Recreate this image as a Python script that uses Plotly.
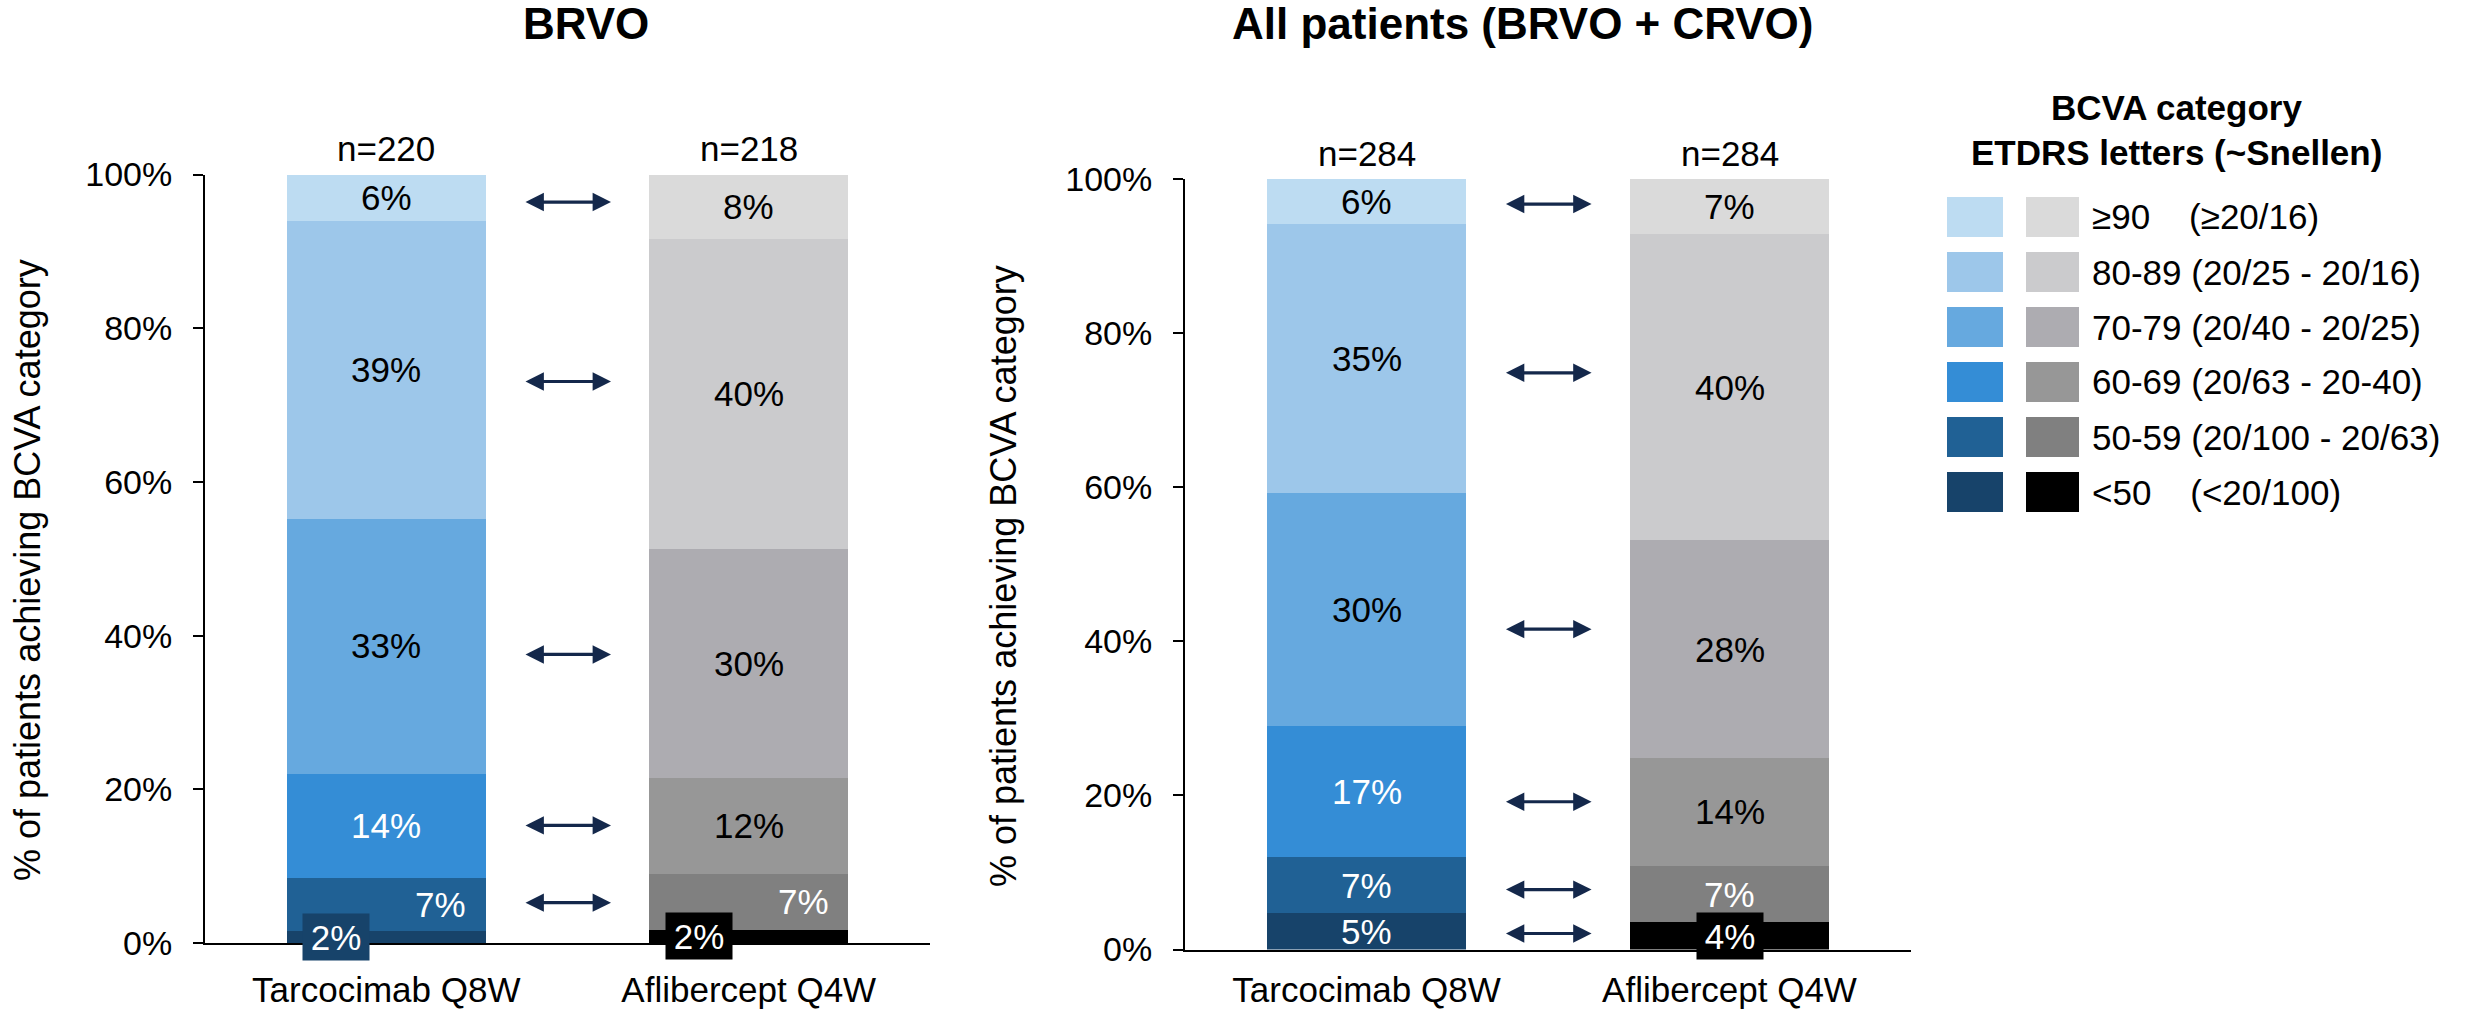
import plotly.graph_objects as go

# ---- data -------------------------------------------------------------
arms = ["Tarcocimab Q8W", "Aflibercept Q4W"]
# BCVA categories, stacked bottom -> top
bcva_levels = ["<50", "50-59", "60-69", "70-79", "80-89", "≥90"]
snellen = ["(<20/100)", "(20/100 - 20/63)", "(20/63 - 20-40)",
           "(20/40 - 20/25)", "(20/25 - 20/16)", "(≥20/16)"]

# % of patients per category (bottom -> top)
brvo_tarcocimab = [1.6, 6.9, 13.6, 33.2, 38.65, 6.05]
brvo_aflibercept = [1.8, 7.3, 12.4, 29.8, 40.4, 8.3]
all_tarcocimab = [4.7, 7.3, 17.0, 30.3, 34.9, 5.8]
all_aflibercept = [3.6, 7.2, 14.1, 28.2, 39.7, 7.2]

brvo_n = [220, 218]
all_n = [284, 284]

panel_titles = ["BRVO", "All patients (BRVO + CRVO)"]
y_title = "% of patients achieving BCVA category"
legend_title = ["BCVA category", "ETDRS letters (~Snellen)"]
y_ticks = [0, 20, 40, 60, 80, 100]
y_ticktext = [f"{v}%" for v in y_ticks]

# ---- style ------------------------------------------------------------
blues = ["#17436A", "#206195", "#348DD6", "#66A9DF", "#9DC7EA", "#BDDCF2"]
greys = ["#000000", "#808080", "#979797", "#ADACB1", "#CBCBCD", "#DADADA"]
# label colour per segment (bottom -> top)
tarco_txt = ["white", "white", "white", "black", "black", "black"]
afli_txt = ["white", "white", "black", "black", "black", "black"]
arrow_col = "#14284B"
FONT = "Liberation Sans, Arial, Helvetica, sans-serif"
W, H = 2465, 1014


def px(x):
    return x / W


def py(y):
    return 1 - y / H


fig = go.Figure()

panels = [
    dict(t=brvo_tarcocimab, a=brvo_aflibercept, n=brvo_n, xa="x", ya="y",
         arrows=["50-59", "60-69", "70-79", "80-89", "≥90"],
         shift_mid={"50-59": 0.15}, boxed={"<50": -0.138}, boxed_arms=[0, 1]),
    dict(t=all_tarcocimab, a=all_aflibercept, n=all_n, xa="x2", ya="y2",
         arrows=["<50", "50-59", "60-69", "70-79", "80-89", "≥90"],
         shift_mid={}, boxed={"<50": 0.0}, boxed_arms=[1]),
]

annotations = []
shapes = []

for p in panels:
    tv, av = p["t"], p["a"]
    for i, lvl in enumerate(bcva_levels):
        fig.add_trace(go.Bar(
            x=[0, 1], y=[tv[i], av[i]],
            marker=dict(color=[blues[i], greys[i]], line=dict(width=0)),
            width=0.55, name=lvl, showlegend=False,
            xaxis=p["xa"], yaxis=p["ya"], hoverinfo="skip",
        ))

    xr = p["xa"]
    yr = p["ya"]
    # segment labels
    for arm, vals, tcols, fill in ((0, tv, tarco_txt, blues), (1, av, afli_txt, greys)):
        base = 0.0
        for i, lvl in enumerate(bcva_levels):
            v = vals[i]
            mid = base + v / 2
            base += v
            txt = f"{round(v)}%"
            xx = arm
            if lvl in p["boxed"] and arm in p["boxed_arms"]:
                xx = arm + p["boxed"][lvl]
                annotations.append(dict(
                    x=xx, y=mid, xref=xr, yref=yr, text=txt, showarrow=False,
                    font=dict(family=FONT, size=35, color="white"),
                    bgcolor=fill[i], width=64, height=44, yanchor="middle",
                ))
                continue
            if lvl in p["shift_mid"]:
                xx = arm + p["shift_mid"][lvl]
            annotations.append(dict(
                x=xx, y=mid, xref=xr, yref=yr, text=txt, showarrow=False,
                font=dict(family=FONT, size=35, color=tcols[i]),
                yanchor="middle",
            ))
    # n above bars
    for arm in (0, 1):
        annotations.append(dict(
            x=arm, y=100, xref=xr, yref=yr, text=f"n={p['n'][arm]}",
            showarrow=False, yanchor="bottom", yshift=4,
            font=dict(family=FONT, size=35, color="black"),
        ))
    # comparison arrows between the two arms
    for lvl in p["arrows"]:
        i = bcva_levels.index(lvl)
        mt = sum(tv[:i]) + tv[i] / 2
        ma = sum(av[:i]) + av[i] / 2
        yy = (mt + ma) / 2
        annotations.append(dict(
            x=0.62, y=yy, ax=0.38, ay=yy, xref=xr, yref=yr,
            axref=xr, ayref=yr, text="", showarrow=True,
            arrowhead=2, startarrowhead=2, arrowside="end+start",
            arrowwidth=3.2, arrowsize=1.15, startarrowsize=1.15,
            arrowcolor=arrow_col, standoff=0, startstandoff=0,
        ))

# panel titles
for txt, xc in zip(panel_titles, [586, 1522]):
    annotations.append(dict(
        x=px(xc), y=py(23), xref="paper", yref="paper", text=f"<b>{txt}</b>",
        showarrow=False, xanchor="center", yanchor="middle",
        font=dict(family=FONT, size=44, color="black"),
    ))

# y-axis titles
for xc, yc in ((27, 570), (1003, 576)):
    annotations.append(dict(
        x=px(xc), y=py(yc), xref="paper", yref="paper", text=y_title,
        textangle=-90, showarrow=False, xanchor="center", yanchor="middle",
        font=dict(family=FONT, size=36, color="black"),
    ))

# legend
for line, yc in zip(legend_title, (108, 152)):
    annotations.append(dict(
        x=px(2176), y=py(yc), xref="paper", yref="paper", text=f"<b>{line}</b>",
        showarrow=False, xanchor="center", yanchor="middle",
        font=dict(family=FONT, size=35, color="black"),
    ))
legend_rows = list(range(len(bcva_levels)))[::-1]  # top row = ≥90
for r, i in enumerate(legend_rows):
    yc = 217 + 55 * r
    shapes.append(dict(type="rect", xref="paper", yref="paper",
                       x0=px(1947), x1=px(2003), y0=py(yc - 20), y1=py(yc + 20),
                       fillcolor=blues[i], line=dict(width=0)))
    shapes.append(dict(type="rect", xref="paper", yref="paper",
                       x0=px(2026), x1=px(2079), y0=py(yc - 20), y1=py(yc + 20),
                       fillcolor=greys[i], line=dict(width=0)))
    lvl = bcva_levels[i]
    gap = " " if len(lvl) > 3 else "\u00a0" * 4
    annotations.append(dict(
        x=px(2090), y=py(yc), xref="paper", yref="paper",
        text=f"{lvl}{gap}{snellen[i]}", showarrow=False,
        xanchor="left", yanchor="middle",
        font=dict(family=FONT, size=35, color="black"),
    ))

xaxis_common = dict(
    range=[-0.5, 1.5], tickvals=[0, 1], ticktext=arms, showline=True,
    linecolor="black", linewidth=2, ticks="", showgrid=False, zeroline=False,
    tickfont=dict(family=FONT, size=35, color="black"),
    automargin=False, fixedrange=True,
)
yaxis_common = dict(
    range=[0, 100], tickvals=y_ticks, ticktext=y_ticktext, showline=True,
    linecolor="black", linewidth=2, ticks="outside", ticklen=10, tickwidth=2,
    tickcolor="black", showgrid=False, zeroline=False, automargin=False,
    tickfont=dict(family=FONT, size=34, color="black"), ticklabelstandoff=14,
)

fig.update_layout(
    width=W, height=H,
    margin=dict(l=0, r=0, t=0, b=0, pad=0, autoexpand=False),
    paper_bgcolor="white", plot_bgcolor="white", barmode="stack",
    bargap=0, showlegend=False,
    xaxis=dict(domain=[px(205), px(930)], anchor="y", ticklabelstandoff=15,
               **xaxis_common),
    xaxis2=dict(domain=[px(1185), px(1911)], anchor="y2", ticklabelstandoff=8,
                **xaxis_common),
    yaxis=dict(domain=[py(943), py(174.5)], anchor="x", **yaxis_common),
    yaxis2=dict(domain=[py(949.5), py(179)], anchor="x2", **yaxis_common),
    annotations=annotations, shapes=shapes,
)

fig.write_html("out.html")
